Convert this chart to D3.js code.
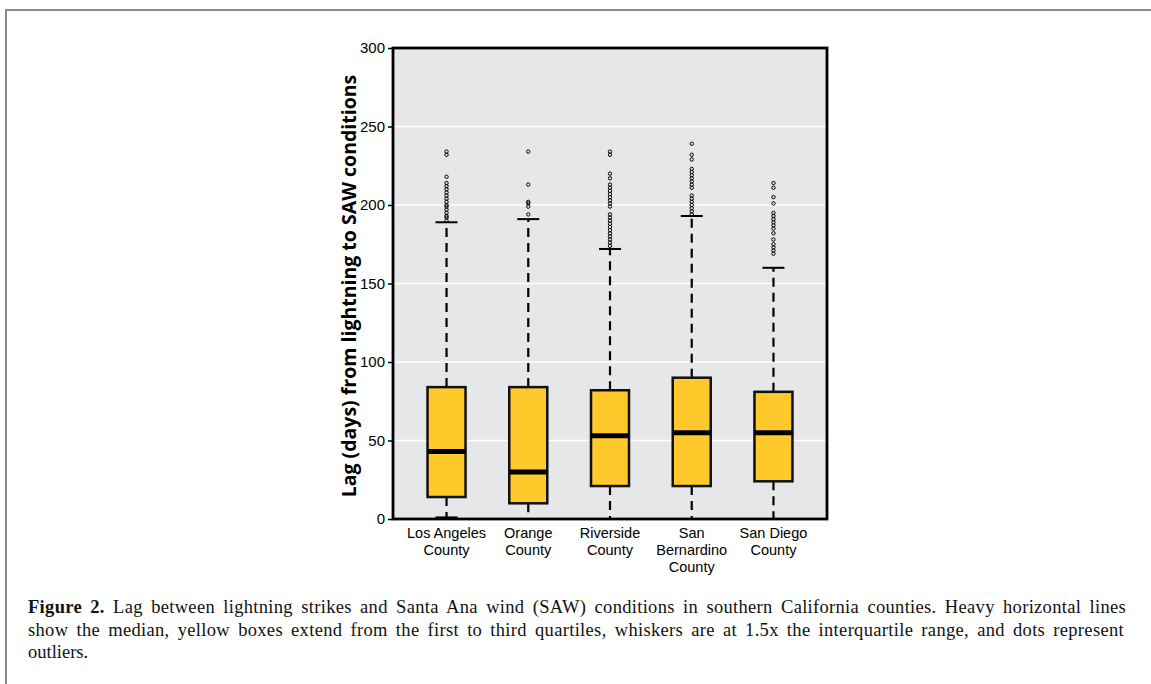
<!DOCTYPE html>
<html>
<head>
<meta charset="utf-8">
<script src="https://cdn.jsdelivr.net/npm/d3@7"></script>
<style>
  body { margin: 0; background: #fff; }
  svg { display: block; }
</style>
</head>
<body>
<div id="chart"></div>
<script>
// counties (label lines) and box stats, in days
const counties = ["Los Angeles County", "Orange County", "Riverside County", "San Bernardino County", "San Diego County"];
const labelLines = [["Los Angeles", "County"], ["Orange", "County"], ["Riverside", "County"], ["San", "Bernardino", "County"], ["San Diego", "County"]];
const q1 = [14, 10, 21, 21, 24];
const median = [43, 30, 53, 55, 55];
const q3 = [84, 84, 82, 90, 81];
const whiskerLow = [1, 0, 0, 0, 0];
const whiskerHigh = [189, 191, 172, 193, 160];
const outliers = [
  [190, 192, 193, 195, 197, 199, 200, 202, 204, 206, 208, 210, 212, 214, 218, 232, 234],
  [194, 199, 201, 202, 213, 234],
  [174, 176, 178, 180, 182, 184, 186, 188, 190, 192, 194, 199, 201, 203, 205, 207, 209, 211, 213, 217, 220, 232, 234],
  [194, 196, 198, 200, 202, 204, 206, 211, 213, 215, 217, 219, 221, 223, 229, 232, 239],
  [169, 171, 173, 175, 178, 182, 185, 187, 189, 191, 193, 195, 201, 205, 211, 214]
];
const yTicks = [0, 50, 100, 150, 200, 250, 300];

const width = 1151, height = 684;
const plotL = 393, plotR = 827, plotT = 48, plotB = 519;

const svg = d3.select("#chart").append("svg")
  .attr("width", width).attr("height", height);

// outer figure frame
svg.append("path")
  .attr("d", `M6,${height} V10 H${width}`)
  .attr("fill", "none").attr("stroke", "#8a8a8a").attr("stroke-width", 2);

const x = d3.scalePoint().domain(counties).range([plotL, plotR]).padding(0.655);
const y = d3.scaleLinear().domain([0, 300]).range([plotB, plotT]);

// plot background
svg.append("rect")
  .attr("x", plotL).attr("y", plotT).attr("width", plotR - plotL).attr("height", plotB - plotT)
  .attr("fill", "#e6e7e8");

// gridlines
svg.append("g").selectAll("line")
  .data(yTicks.filter(d => d > 0 && d < 300))
  .enter().append("line")
  .attr("x1", plotL).attr("x2", plotR)
  .attr("y1", d => y(d)).attr("y2", d => y(d))
  .attr("stroke", "#fff").attr("stroke-width", 1.5);

// y axis
const yAxis = svg.append("g")
  .attr("transform", `translate(${plotL},0)`)
  .call(d3.axisLeft(y).tickValues(yTicks).tickSize(5).tickPadding(3));
yAxis.select(".domain").remove();
yAxis.selectAll(".tick line").attr("stroke", "#000").attr("stroke-width", 1.5);
yAxis.selectAll(".tick text")
  .attr("font-family", "'Liberation Sans', Arial, sans-serif").attr("font-size", 15).attr("fill", "#000");

svg.append("text")
  .attr("transform", `translate(356,286) rotate(-90)`)
  .attr("text-anchor", "middle")
  .attr("font-family", "'Open Sans', sans-serif").attr("font-weight", "bold").attr("font-size", 19.5)
  .text("Lag (days) from lightning to SAW conditions");

const idx = counties.map((c, i) => i);
const boxW = 38, capW = 22;

const g = svg.append("g");

// whiskers (dashed)
g.selectAll("line.wh-up").data(idx).enter().append("line")
  .attr("x1", i => x(counties[i])).attr("x2", i => x(counties[i]))
  .attr("y1", i => y(q3[i])).attr("y2", i => y(whiskerHigh[i]))
  .attr("stroke", "#000").attr("stroke-width", 2.2).attr("stroke-dasharray", "9,6");
g.selectAll("line.wh-lo").data(idx).enter().append("line")
  .attr("x1", i => x(counties[i])).attr("x2", i => x(counties[i]))
  .attr("y1", i => y(q1[i])).attr("y2", i => y(whiskerLow[i]))
  .attr("stroke", "#000").attr("stroke-width", 2.2).attr("stroke-dasharray", "9,6");

// whisker caps
g.selectAll("line.cap-up").data(idx).enter().append("line")
  .attr("x1", i => x(counties[i]) - capW / 2).attr("x2", i => x(counties[i]) + capW / 2)
  .attr("y1", i => y(whiskerHigh[i])).attr("y2", i => y(whiskerHigh[i]))
  .attr("stroke", "#000").attr("stroke-width", 2);
g.selectAll("line.cap-lo").data(idx).enter().append("line")
  .attr("x1", i => x(counties[i]) - capW / 2).attr("x2", i => x(counties[i]) + capW / 2)
  .attr("y1", i => y(whiskerLow[i])).attr("y2", i => y(whiskerLow[i]))
  .attr("stroke", "#000").attr("stroke-width", 2);

// boxes
g.selectAll("rect.box").data(idx).enter().append("rect")
  .attr("x", i => x(counties[i]) - boxW / 2).attr("width", boxW)
  .attr("y", i => y(q3[i])).attr("height", i => y(q1[i]) - y(q3[i]))
  .attr("fill", "#ffc92c").attr("stroke", "#111").attr("stroke-width", 2.5);

// medians
g.selectAll("line.med").data(idx).enter().append("line")
  .attr("x1", i => x(counties[i]) - boxW / 2).attr("x2", i => x(counties[i]) + boxW / 2)
  .attr("y1", i => y(median[i])).attr("y2", i => y(median[i]))
  .attr("stroke", "#000").attr("stroke-width", 5);

// outliers
idx.forEach(i => {
  g.selectAll(null).data(outliers[i]).enter().append("circle")
    .attr("cx", x(counties[i])).attr("cy", d => y(d)).attr("r", 1.7)
    .attr("fill", "none").attr("stroke", "#000").attr("stroke-width", 1);
});

// plot frame
svg.append("rect")
  .attr("x", plotL).attr("y", plotT).attr("width", plotR - plotL).attr("height", plotB - plotT)
  .attr("fill", "none").attr("stroke", "#000").attr("stroke-width", 2.8);

// x labels, one text per line
const xl = svg.append("g");
idx.forEach(i => {
  labelLines[i].forEach((line, k) => {
    xl.append("text")
      .attr("x", x(counties[i])).attr("y", 538 + k * 17)
      .attr("text-anchor", "middle")
      .attr("font-family", "'Liberation Sans', Arial, sans-serif").attr("font-size", 14.5).attr("fill", "#000")
      .text(line);
  });
});

// caption, justified by widening letter and word gaps
const capLines = [
  { bold: "Figure 2.", text: " Lag between lightning strikes and Santa Ana wind (SAW) conditions in southern California counties. Heavy horizontal lines", len: 1098 },
  { bold: "", text: "show the median, yellow boxes extend from the first to third quartiles, whiskers are at 1.5x the interquartile range, and dots represent", len: 1096 },
  { bold: "", text: "outliers.", len: null }
];
capLines.forEach((c, k) => {
  const t = svg.append("text")
    .attr("x", 28).attr("y", 613 + k * 22.5)
    .attr("font-family", "'Liberation Serif', 'Times New Roman', serif").attr("font-size", 18.5).attr("fill", "#111");
  if (c.bold) t.append("tspan").attr("font-weight", "bold").text(c.bold);
  t.append("tspan").text(c.text);
  if (c.len) {
    const full = c.bold + c.text;
    const natural = t.node().getComputedTextLength();
    const extra = Math.max(0, c.len - natural);
    const gaps = full.split(" ").length - 1;
    t.attr("letter-spacing", (extra * 0.4) / full.length)
     .attr("word-spacing", (extra * 0.6) / gaps);
  }
});
</script>
</body>
</html>
